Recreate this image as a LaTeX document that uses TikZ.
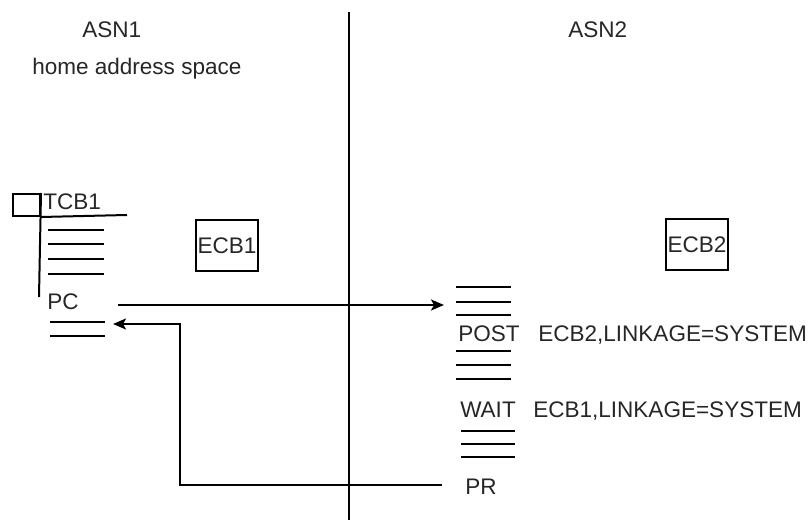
\documentclass[tikz,border=0pt]{standalone}
\usepackage{fontspec}
\setmainfont{Liberation Sans}
\usetikzlibrary{arrows.meta}
\begin{document}
\begin{tikzpicture}[x=0.75pt,y=-0.75pt,
  every node/.style={font=\fontsize{16.9}{20.3}\selectfont, text=black!85, inner sep=0pt},
  ln/.style={line width=2*0.75pt},
  lbl/.style={anchor=base west},
  ecb/.style={draw, line width=2*0.75pt, minimum width=62*0.75pt, minimum height=51*0.75pt},
  arr/.style={ln, -{Stealth[length=13*0.75pt, width=11*0.75pt, inset=3*0.75pt]}}]
\useasboundingbox (0,0) rectangle (811,520);
% divider
\coordinate (divtop) at (349,12);
\coordinate (divbot) at (349,520);
\draw[ln] (divtop) -- (divbot);
% headings
\node[lbl] (asn1) at (82,38) {ASN1};
\node[lbl] (home) at (32,75) {home address space};
\node[lbl] (asn2) at (568,38) {ASN2};
% TCB1
\node[draw, ln, minimum width=27*0.75pt, minimum height=22*0.75pt, anchor=north west] (tcbbox) at (12,193) {};
\node[lbl] (tcb1) at (43,210) {TCB1};
\coordinate (tcbline) at (127,215);
\draw[ln] (tcbbox.south east) -- (tcbline);
\coordinate (tcbvert) at (39,297);
\draw[ln] (tcbbox.north east) -- (tcbvert);
\foreach \y in {230,244,259,274} \draw[ln] (48,\y) -- (104,\y);
\node[lbl] (pc) at (47,310) {PC};
\foreach \y in {322,336} \draw[ln] (50,\y) -- (105,\y);
% ECB boxes
\node[ecb] (ecb1) at (227,245.5) {ECB1};
\node[ecb] (ecb2) at (697,245) {ECB2};
% right side code
\foreach \y in {287,302,315,351,365,379} \draw[ln] (456,\y) -- (511,\y);
\foreach \y in {431,444,457} \draw[ln] (461,\y) -- (515,\y);
\node[lbl] (post) at (458,342) {POST};
\node[lbl] (postarg) at (538,342) {ECB2,LINKAGE=SYSTEM};
\node[lbl] (wait) at (460,418) {WAIT};
\node[lbl] (waitarg) at (533,418) {ECB1,LINKAGE=SYSTEM};
\node[lbl] (pr) at (465,494) {PR};
% connectors
\coordinate (pcout) at (118,305);
\coordinate (postin) at (444,305);
\draw[arr] (pcout) -- (postin);
\coordinate (prout) at (442,485);
\coordinate (retin) at (113,324);
\draw[arr] (prout) -- (180,485) -- (180,324) -- (retin);
\end{tikzpicture}
\end{document}
